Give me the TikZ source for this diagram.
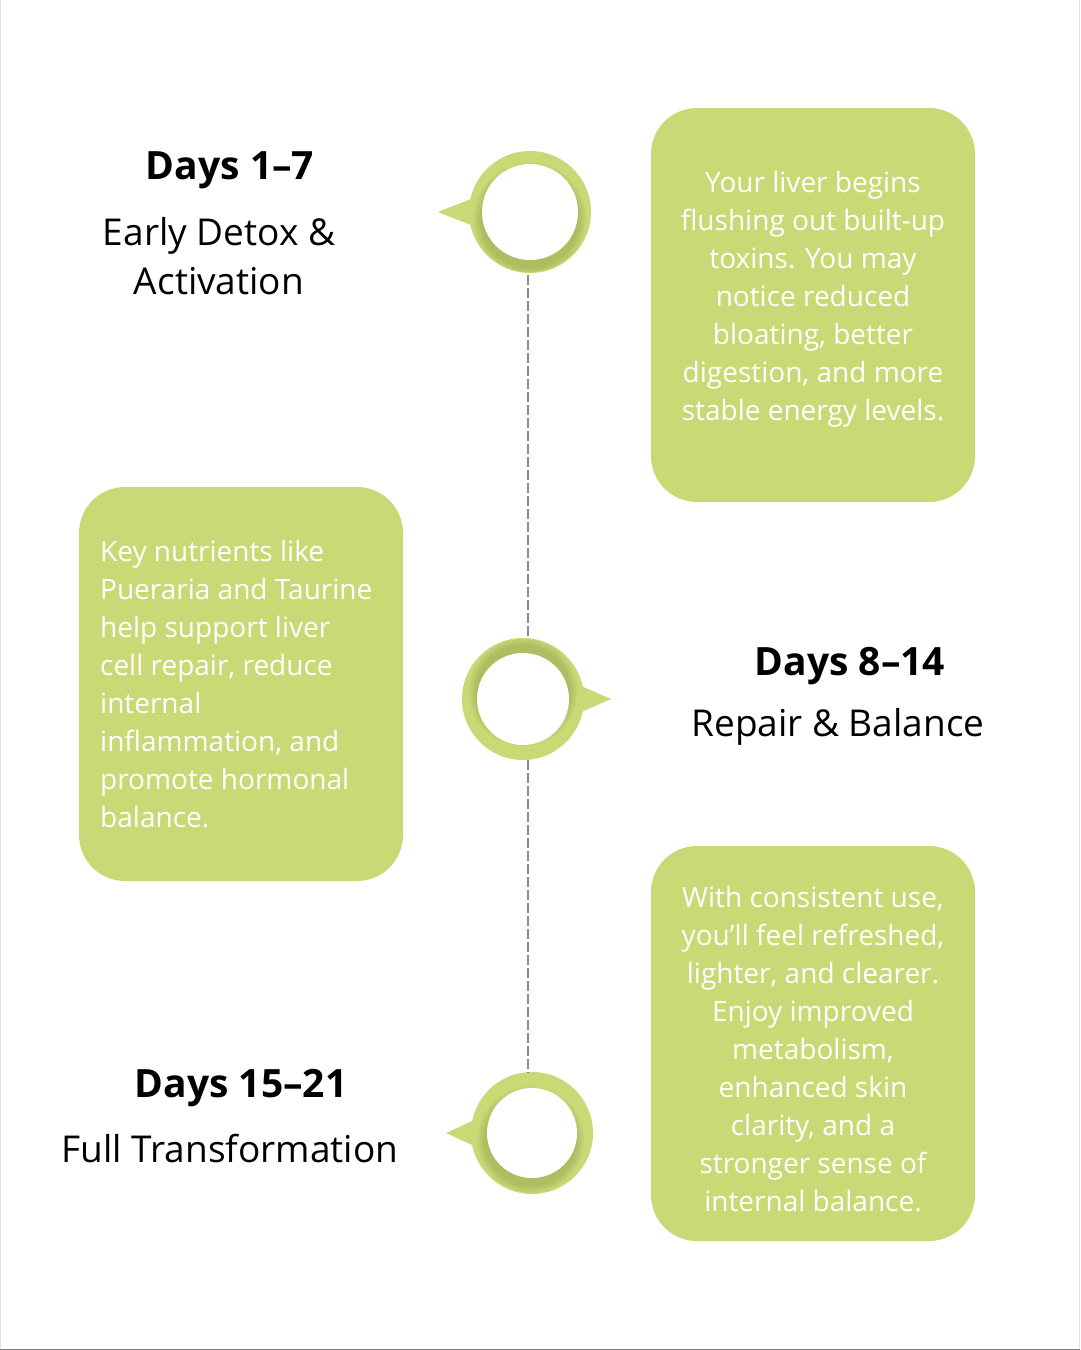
\documentclass[tikz,border=0pt]{standalone}
\usepackage{fontspec}
\setmainfont{Open Sans}
\usetikzlibrary{calc}
\definecolor{grn}{HTML}{CAD876}
\definecolor{grnd}{HTML}{6E7A30}
\definecolor{spinec}{HTML}{8A8A8A}
\tikzset{
  box/.style={fill=grn, rounded corners=46pt},
  boxtext/.style={text=white, font=\fontsize{28}{38}\selectfont, inner sep=0pt},
  dayhead/.style={font=\fontsize{39}{44}\selectfont\bfseries, text=black, inner sep=0pt},
  subhead/.style={font=\fontsize{37}{49}\selectfont, text=black, inner sep=0pt, align=center},
  spine/.style={draw=spinec, line width=1.5pt, dash pattern=on 10pt off 3pt},
  pics/ringpic/.style args={#1/#2/#3/#4}{code={
    % #1 tail angle, #2 tail length, #3 shadow direction, #4 inner radius
    \fill[grn] (#1+19:52) -- (#1:#2) -- (#1-19:52) -- cycle;
    \fill[grn] (0,0) circle (61);
    \begin{scope}
      \clip (0,0) circle (60);
      \foreach \k in {1,...,7}{
        \fill[grnd, opacity=0.045] (#3:7) circle ({#4+\k*1.2});
      }
    \end{scope}
    \fill[white] (0,0) circle (#4);
  }}
}
\begin{document}
\begin{tikzpicture}[x=1pt,y=-1pt]
\useasboundingbox (0,0) rectangle (1080,1350);
\fill[white] (0,0) rectangle (1080,1350);
\draw[black!12, line width=1pt] (0.5,0) -- (0.5,1350);
\draw[black!12, line width=1pt] (1079.5,0) -- (1079.5,1350);
\draw[black!50, line width=1.5pt] (0,1349.25) -- (1080,1349.25);

\coordinate (spinex) at (528,0);

% rings
\pic at (530,212) {ringpic={180/92/90/48}};
\pic at (523,699) {ringpic={0/88/270/46}};
\pic at (532,1133) {ringpic={180/86/100/45}};
\node[circle, minimum size=126pt, inner sep=0pt] (c1) at (530,212) {};
\node[circle, minimum size=122pt, inner sep=0pt] (c2) at (523,699) {};
\node[circle, minimum size=120pt, inner sep=0pt] (c3) at (532,1133) {};

% spine
\draw[spine] (c1.south -| spinex) -- (c2.north -| spinex);
\draw[spine] (c2.south -| spinex) -- (c3.north -| spinex);

% boxes
\fill[box] (651,108) rectangle (975,502);
\fill[box] (79,487) rectangle (403,881);
\fill[box] (651,846) rectangle (975,1241);

\node[boxtext, align=center] (t1) at (813,299) {Your liver begins\\flushing out built-up\\toxins. You may\\notice reduced\\bloating, better\\digestion, and more\\stable energy levels.};
\node[boxtext, align=left, anchor=west] (t2) at (100,684) {Key nutrients like\\Pueraria and Taurine\\help support liver\\cell repair, reduce\\internal\\inflammation, and\\promote hormonal\\balance.};
\node[boxtext, align=center] (t3) at (813,1049) {With consistent use,\\you’ll feel refreshed,\\lighter, and clearer.\\Enjoy improved\\metabolism,\\enhanced skin\\clarity, and a\\stronger sense of\\internal balance.};

% headings
\node[dayhead] (d1) at (230,170) {Days 1–7};
\node[subhead] (s1) at (219,256) {Early Detox \&\\Activation};
\node[dayhead] (d2) at (850,666) {Days 8–14};
\node[subhead] (s2) at (838,727) {Repair \& Balance};
\node[dayhead] (d3) at (241,1088) {Days 15–21};
\node[subhead] (s3) at (230,1149) {Full Transformation};
\end{tikzpicture}
\end{document}
